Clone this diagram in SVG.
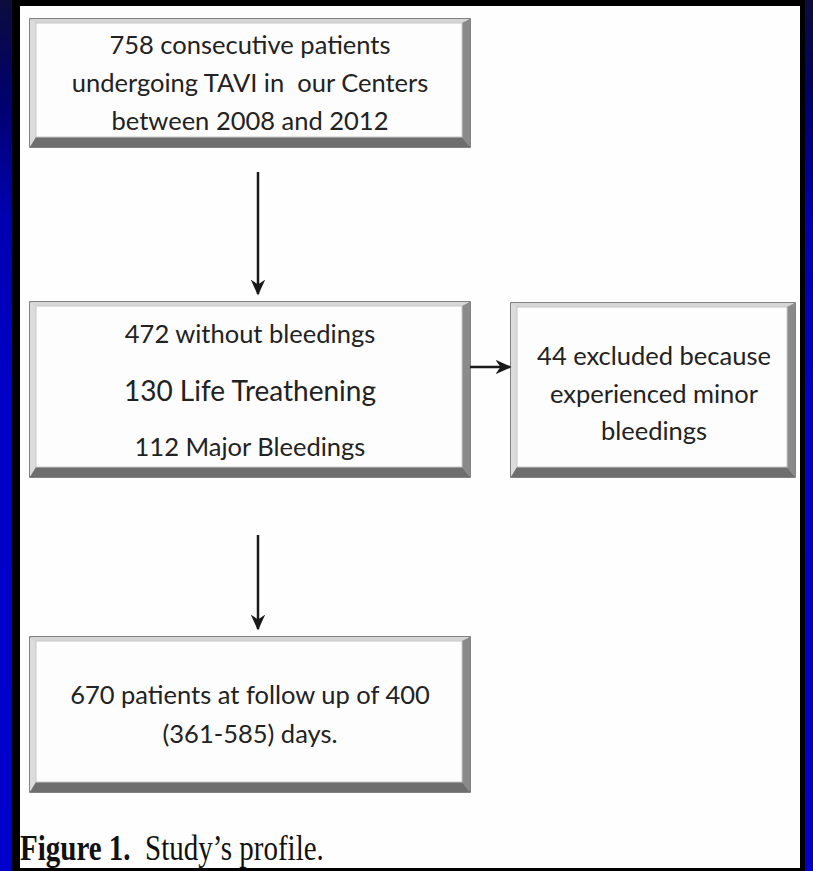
<svg xmlns="http://www.w3.org/2000/svg" width="813" height="871" viewBox="0 0 813 871">
  <defs>
    <linearGradient id="bg" x1="0" y1="0" x2="0" y2="1">
      <stop offset="0" stop-color="#0c0c3c"/>
      <stop offset="0.12" stop-color="#000070"/>
      <stop offset="0.25" stop-color="#0000b0"/>
      <stop offset="0.45" stop-color="#0000c8"/>
      <stop offset="1" stop-color="#0000cc"/>
    </linearGradient>
    <marker id="arrow" markerUnits="userSpaceOnUse" markerWidth="16" markerHeight="16" viewBox="0 0 10 10" refX="9" refY="5" orient="auto">
      <path d="M0,0.5 L10,5 L0,9.5 L3,5 Z" fill="#1a1a1a"/>
    </marker>
    <style>
      .frame { fill: #c4c4c4; stroke: #5a5a5a; stroke-width: 1.5; }
      .bevel-top { fill: #d6d6d6; }
      .bevel-left { fill: #dcdcdc; }
      .bevel-right { fill: #8a8a8a; }
      .bevel-bottom { fill: #6e6e6e; }
      .face { fill: #fdfdfd; stroke: #c8c8c8; stroke-width: 1; }
      .lbl { font-family: Lato, "Liberation Sans", sans-serif; font-size: 25.5px; fill: #222; text-anchor: middle; }
      .big { font-size: 28px; }
      .conn { stroke: #1a1a1a; stroke-width: 2.5; fill: none; marker-end: url(#arrow); }
      .cap { font-family: "Liberation Serif", "Times New Roman", serif; font-size: 29px; fill: #111; }
    </style>
  </defs>

  <!-- background frame -->
  <rect x="0" y="0" width="813" height="871" fill="url(#bg)"/>
  <rect x="12" y="0" width="793" height="871" fill="#000"/>
  <rect x="20" y="6" width="780" height="862" fill="#fefefe"/>

  <!-- node 1 -->
  <g id="node-start">
    <rect class="frame" x="30" y="19" width="440" height="128"/>
    <polygon class="bevel-top" points="30,19 470,19 462,23 36,23"/>
    <polygon class="bevel-left" points="30,19 36,23 36,137 30,147"/>
    <polygon class="bevel-right" points="470,19 470,147 462,137 462,23"/>
    <polygon class="bevel-bottom" points="30,147 470,147 462,137 36,137"/>
    <rect class="face" x="36" y="23" width="426" height="114"/>
    <text class="lbl" x="250" y="54">758 consecutive patients</text>
    <text class="lbl" x="250" y="92" xml:space="preserve">undergoing TAVI in  our Centers</text>
    <text class="lbl" x="250" y="130">between 2008 and 2012</text>
  </g>

  <!-- node 2 -->
  <g id="node-bleedings">
    <rect class="frame" x="30" y="302" width="440" height="175"/>
    <polygon class="bevel-top" points="30,302 470,302 462,306 36,306"/>
    <polygon class="bevel-left" points="30,302 36,306 36,467 30,477"/>
    <polygon class="bevel-right" points="470,302 470,477 462,467 462,306"/>
    <polygon class="bevel-bottom" points="30,477 470,477 462,467 36,467"/>
    <rect class="face" x="36" y="306" width="426" height="161"/>
    <text class="lbl" x="250" y="343">472 without bleedings</text>
    <text class="lbl big" x="250" y="401">130 Life Treathening</text>
    <text class="lbl" x="250" y="456">112 Major Bleedings</text>
  </g>

  <!-- node 3 -->
  <g id="node-excluded">
    <rect class="frame" x="511" y="303" width="284" height="174"/>
    <polygon class="bevel-top" points="511,303 795,303 787,307 517,307"/>
    <polygon class="bevel-left" points="511,303 517,307 517,467 511,477"/>
    <polygon class="bevel-right" points="795,303 795,477 787,467 787,307"/>
    <polygon class="bevel-bottom" points="511,477 795,477 787,467 517,467"/>
    <rect class="face" x="517" y="307" width="270" height="160"/>
    <text class="lbl" x="654" y="365">44 excluded because</text>
    <text class="lbl" x="654" y="403">experienced minor</text>
    <text class="lbl" x="654" y="440">bleedings</text>
  </g>

  <!-- node 4 -->
  <g id="node-followup">
    <rect class="frame" x="30" y="637" width="440" height="155"/>
    <polygon class="bevel-top" points="30,637 470,637 462,641 36,641"/>
    <polygon class="bevel-left" points="30,637 36,641 36,782 30,792"/>
    <polygon class="bevel-right" points="470,637 470,792 462,782 462,641"/>
    <polygon class="bevel-bottom" points="30,792 470,792 462,782 36,782"/>
    <rect class="face" x="36" y="641" width="426" height="141"/>
    <text class="lbl" x="250" y="704">670 patients at follow up of 400</text>
    <text class="lbl" x="250" y="743">(361-585) days.</text>
  </g>

  <!-- connectors -->
  <g id="connectors">
    <line class="conn" x1="258" y1="172" x2="258" y2="294"/>
    <line class="conn" x1="258" y1="535" x2="258" y2="629"/>
    <line class="conn" x1="470" y1="367" x2="510" y2="367"/>
  </g>

  <!-- caption -->
  <text class="cap" transform="translate(20,860) scale(1,1.25)" xml:space="preserve"><tspan font-weight="bold">Figure 1.</tspan>  Study’s profile.</text>
</svg>
